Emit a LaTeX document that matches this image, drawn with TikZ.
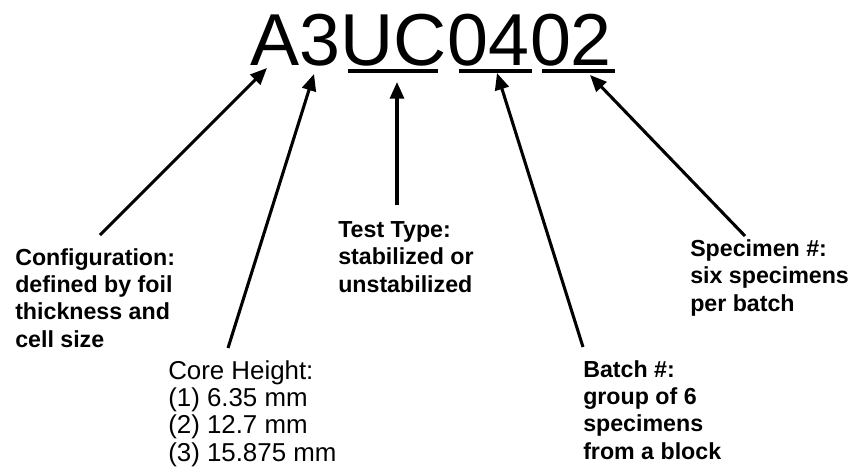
\documentclass[tikz,border=0pt]{standalone}
\usepackage{fontspec}
\setmainfont{Liberation Sans}
\usetikzlibrary{arrows.meta}
\begin{document}
\begin{tikzpicture}[x=0.75pt,y=-0.75pt,
  lab/.style={anchor=base west, inner sep=0pt, align=left,
    font=\fontsize{17.4}{20.5}\selectfont\bfseries},
  labr/.style={anchor=base west, inner sep=0pt, align=left,
    font=\fontsize{19.4}{20.5}\selectfont},
  code/.style={anchor=base west, inner sep=0pt,
    font=\fontsize{55.2}{60}\selectfont},
  arr/.style={line width=2.3pt, -{Triangle[length=12.5pt,width=10.5pt]}},
  uline/.style={line width=3.6pt}]
\useasboundingbox (0,0) rectangle (857,475);

% code string
\node[code] (t1) at (250,65) {A3};
\node[code] (t2) at (t1.base east) {UC};
\node[code] (t3) at (t2.base east) {04};
\node[code] (t4) at (t3.base east) {02};
\draw[uline] ([shift={(7,6)}]t2.base west) -- ([shift={(-9,6)}]t2.base east);
\draw[uline] ([shift={(12,6)}]t3.base west) -- ([shift={(2,6)}]t3.base east);
\draw[uline] ([shift={(12,6)}]t4.base west) -- ([shift={(3,6)}]t4.base east);

% labels (base anchor = baseline of the last line)
\node[lab] (conf) at (15,347) {Configuration:\\defined by foil\\thickness and\\cell size};
\node[labr] (core) at (168,461) {Core Height:\\(1) 6.35 mm\\(2) 12.7 mm\\(3) 15.875 mm};
\node[lab] (test) at (338,292) {Test Type:\\stabilized or\\unstabilized};
\node[lab] (batch) at (583,459) {Batch \#:\\group of 6\\specimens\\from a block};
\node[lab] (spec) at (690,311) {Specimen \#:\\six specimens\\per batch};

% arrow ends
\coordinate (confTail) at (100,235);
\coordinate (confTip) at (267,68);
\coordinate (coreTail) at (228,348);
\coordinate (coreTip) at (314,74);
\coordinate (testTail) at (397,205);
\coordinate (testTip) at (397,82);
\coordinate (batchTail) at (583,347);
\coordinate (batchTip) at (497,73);
\coordinate (specTail) at (745,236);
\coordinate (specTip) at (590,75);

\draw[arr] (confTail) -- (confTip);
\draw[arr] (coreTail) -- (coreTip);
\draw[arr] (testTail) -- (testTip);
\draw[arr] (batchTail) -- (batchTip);
\draw[arr] (specTail) -- (specTip);
\end{tikzpicture}
\end{document}
